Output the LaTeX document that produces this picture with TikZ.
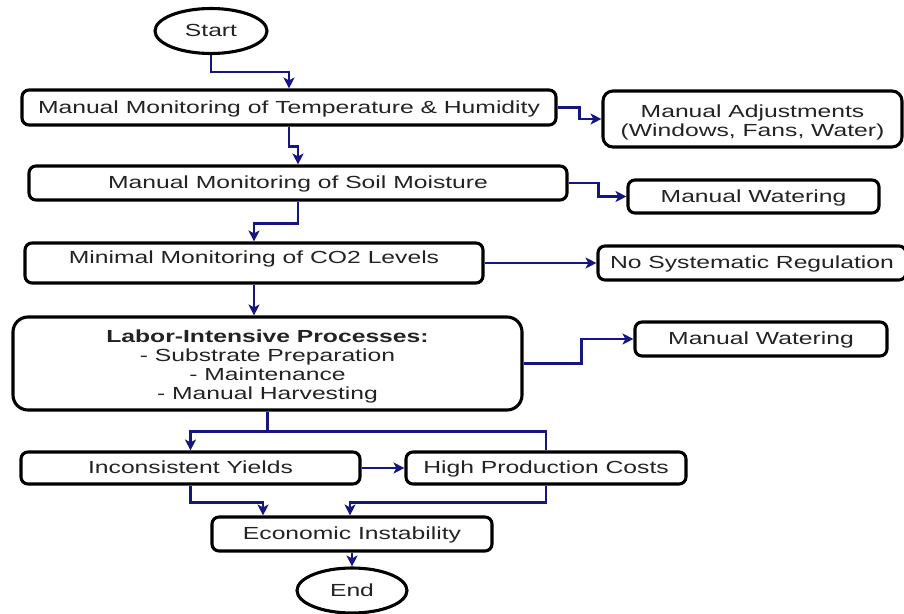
\documentclass[tikz,border=0pt]{standalone}
\usepackage{fontspec}
\newfontfamily\diagfont[FakeStretch=1.41]{Liberation Sans}
\usetikzlibrary{arrows.meta,shapes.geometric}
\definecolor{arrowblue}{RGB}{22,22,128}
\definecolor{textgray}{RGB}{35,35,35}
\newcommand{\mlines}[2]{\begin{tabular}{@{}c@{}}\rule{0pt}{#1}#2\end{tabular}}
\begin{document}
\begin{tikzpicture}[x=1pt,y=-1pt,
  font={\diagfont\fontsize{17.5}{19}\selectfont},
  box/.style={draw=black, line width=3.1pt, rounded corners=7pt, fill=white,
    inner sep=0pt, text=textgray, text height=11.6pt, text depth=0pt},
  mbox/.style={draw=black, line width=3.1pt, rounded corners=7pt, fill=white,
    inner sep=0pt, text=textgray},
  term/.style={ellipse, draw=black, line width=3.1pt, fill=white, inner sep=0pt,
    text=textgray, text height=11.6pt, text depth=0pt},
  arr/.style={draw=arrowblue, line width=2.9pt, -{Stealth[length=11pt,width=11pt,inset=3pt]}},
  ln/.style={draw=arrowblue, line width=2.9pt}]
\useasboundingbox (0,0) rectangle (904,613);
\fill[white] (0,0) rectangle (904,613);

% nodes
\node[term, minimum width=112pt, minimum height=45pt] (start) at (211,31) {Start};
\node[box, minimum width=534pt, minimum height=35pt] (n1) at (289,107.5) {Manual Monitoring of Temperature \& Humidity};
\node[mbox, rounded corners=10pt, minimum width=299pt, minimum height=56pt] (adj) at (752.5,119)
  {\mlines{22.3pt}{Manual Adjustments\\(Windows, Fans, Water)}};
\node[box, minimum width=538pt, minimum height=34pt] (n2) at (298,183) {Manual Monitoring of Soil Moisture};
\node[box, minimum width=251pt, minimum height=33pt] (mw1) at (753.5,196.5) {Manual Watering};
\node[box, minimum width=458pt, minimum height=40pt, text depth=11pt] (n3) at (254,263) {Minimal Monitoring of CO2 Levels};
\node[box, minimum width=308pt, minimum height=34pt] (nsr) at (752,263) {No Systematic Regulation};
\node[mbox, rounded corners=15pt, minimum width=509pt, minimum height=93pt] (n4) at (267.5,363.5)
  {\mlines{20.3pt}{\textbf{Labor-Intensive Processes:}\\- Substrate Preparation\\- Maintenance\\- Manual Harvesting}};
\node[box, minimum width=252pt, minimum height=34pt] (mw2) at (761,339) {Manual Watering};
\node[box, minimum width=339pt, minimum height=32pt] (iy) at (190.5,468) {Inconsistent Yields};
\node[box, minimum width=280pt, minimum height=32pt] (hpc) at (546,468) {High Production Costs};
\node[box, minimum width=280pt, minimum height=34pt] (ei) at (352,534) {Economic Instability};
\node[term, minimum width=110pt, minimum height=45pt] (end) at (352,590.5) {End};

% connectors
\draw[arr] (start) -- (start |- 0,72) -| (n1.north);
\draw[arr] (n1.south) -- ++(0,20) -| (n2.north);
\draw[arr] (n2.south) -- ++(0,22) -| (n3.north);
\draw[arr] (n3.south) -- (n3.south |- n4.north);
\draw[arr] (n1.east) -- ++(22,0) |- (adj.west);
\draw[arr] (n2.east) -- ++(30,0) |- (mw1.west);
\draw[arr] (n3.east) -- (nsr.west);
\draw[arr] (n4.east) -- ++(58,0) |- (mw2.west);
\draw[ln] (n4.south) -- ++(0,20) coordinate (split);
\draw[arr] (split) -| (iy.north);
\draw[ln] (split) -| (hpc.north);
\draw[arr] (iy.east) -- (hpc.west);
\draw[arr] (iy.south) -- ++(0,17) -| ([xshift=-89pt]ei.north);
\draw[arr] (hpc.south) -- ++(0,17) -| ([xshift=-2pt]ei.north);
\draw[arr] (ei) -- (end);
\end{tikzpicture}
\end{document}
